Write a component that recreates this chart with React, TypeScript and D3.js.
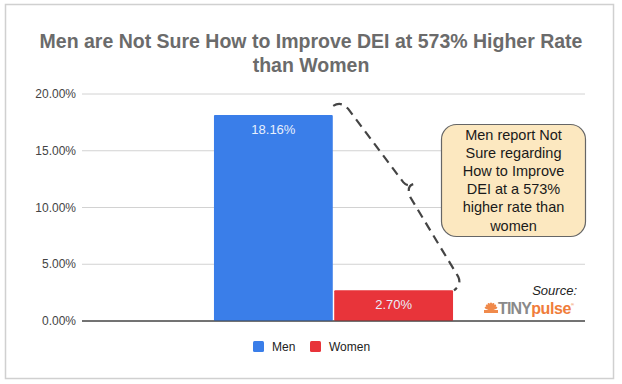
import * as d3 from "d3";
import { useEffect } from "react";

const categories = ["All respondents"];
const seriesNames = ["Men", "Women"];
const seriesValues = [0.1816, 0.027];
const seriesColors = ["#3a7ee9", "#e8343a"];
const yTicks = [0, 0.05, 0.1, 0.15, 0.2];
const titleLines = [
  "Men are Not Sure How to Improve DEI at 573% Higher Rate",
  "than Women",
];
const calloutLines = [
  "Men report Not",
  "Sure regarding",
  "How to Improve",
  "DEI at a 573%",
  "higher rate than",
  "women",
];

const W = 622;
const H = 384;
const margin = { top: 94, right: 37, bottom: 63, left: 82 };
const font = "'Liberation Sans', Arial, Helvetica, sans-serif";

function App() {
  useEffect(() => {
    document.body.style.margin = "0";
  }, []);

  const x0 = d3
    .scaleBand()
    .domain(categories)
    .range([margin.left, W - margin.right])
    .paddingInner(0)
    .paddingOuter(0.552);

  const x1 = d3
    .scaleBand()
    .domain(seriesNames)
    .range([0, x0.bandwidth()])
    .paddingInner(0.012);

  const y = d3
    .scaleLinear()
    .domain([0, 0.2])
    .range([H - margin.bottom, margin.top]);

  const fmt = d3.format(".2%");
  const gx = x0(categories[0]) as number;

  // brace between the two bar tops, anchored on the scales
  const bx = gx + (x1("Women") as number);
  const bTop = y(seriesValues[0]) - 9;
  const bBot = y(seriesValues[1]);
  const bRight = bx + x1.bandwidth() + 7;
  const midX = bx + 75;
  const midY = (bTop + bBot) / 2 - 14;
  const brace = d3.path();
  brace.moveTo(bx - 1, bTop);
  brace.quadraticCurveTo(bx + 7, bTop - 5, bx + 14, bTop + 3);
  brace.lineTo(midX - 6, midY - 2);
  brace.quadraticCurveTo(midX - 2, midY + 3, midX + 4, midY);
  brace.moveTo(midX + 4, midY);
  brace.quadraticCurveTo(midX - 3, midY + 2, midX + 1, midY + 13);
  brace.lineTo(bRight - 2, bBot - 14);
  brace.quadraticCurveTo(bRight + 2, bBot - 6, bRight - 6, bBot);

  return (
    <svg width={W} height={H} style={{ display: "block" }} fontFamily={font}>
      <rect x={0} y={0} width={W} height={H} fill="#ffffff" />
      <rect
        x={5.5}
        y={4.5}
        width={608}
        height={374}
        fill="none"
        stroke="#d0d0d0"
        strokeWidth={1.5}
      />

      {titleLines.map((t, i) => (
        <text
          key={t}
          x={311}
          y={48 + i * 24}
          textAnchor="middle"
          fontSize={19.5}
          fontWeight="bold"
          fill="#6b6b6b"
        >
          {t}
        </text>
      ))}

      {yTicks.map((t) => (
        <g key={t}>
          <line
            x1={margin.left}
            x2={W - margin.right}
            y1={y(t)}
            y2={y(t)}
            stroke={t === 0 ? "#444" : "#d2d2d2"}
            strokeWidth={1}
          />
          <text
            x={margin.left - 6}
            y={y(t) + 4}
            textAnchor="end"
            fontSize={12}
            fill="#444"
          >
            {fmt(t)}
          </text>
        </g>
      ))}

      {seriesNames.map((s, i) => {
        const bx0 = gx + (x1(s) as number);
        const v = seriesValues[i];
        const bh = y(0) - y(v);
        return (
          <g key={s}>
            <rect
              x={bx0}
              y={y(v)}
              width={x1.bandwidth()}
              height={bh}
              fill={seriesColors[i]}
              rx={1}
            />
            <text
              x={bx0 + x1.bandwidth() / 2}
              y={y(v) + 19}
              textAnchor="middle"
              fontSize={13}
              fill="#e8effc"
            >
              {fmt(v)}
            </text>
          </g>
        );
      })}

      <line
        x1={margin.left}
        x2={W - margin.right}
        y1={y(0)}
        y2={y(0)}
        stroke="#444"
        strokeWidth={1}
      />

      <path
        d={brace.toString()}
        fill="none"
        stroke="#444"
        strokeWidth={2.2}
        strokeDasharray="9,6"
        strokeLinecap="butt"
      />

      <rect
        x={441.5}
        y={124.5}
        width={144}
        height={112}
        rx={15}
        fill="#fce8c0"
        stroke="#666"
        strokeWidth={1.2}
      />
      {calloutLines.map((t, i) => (
        <text
          key={t}
          x={513.5}
          y={140 + i * 18.1}
          textAnchor="middle"
          fontSize={14.5}
          fill="#1a1a1a"
        >
          {t}
        </text>
      ))}

      <text
        x={577}
        y={295}
        textAnchor="end"
        fontSize={13}
        fontStyle="italic"
        fill="#222"
      >
        Source:
      </text>
      <g transform="translate(491,309)">
        {d3.range(-75, 80, 25).map((a) => (
          <ellipse
            key={a}
            cx={0}
            cy={0}
            rx={1.6}
            ry={4.5}
            fill="#f08a4b"
            transform={`rotate(${a}) translate(0,-2)`}
          />
        ))}
        <rect x={-7} y={1} width={14} height={3} fill="#f08a4b" />
      </g>
      <text
        x={498}
        y={314}
        fontSize={16}
        fontWeight="bold"
        letterSpacing={-0.8}
        fill="#8a8a8a"
        fontFamily="'Liberation Sans Narrow', 'Liberation Sans', sans-serif"
      >
        TINY
        <tspan fill="#f07d3a" letterSpacing={-0.4}>
          pulse
        </tspan>
        <tspan fontSize={4} dy={-8} fill="#f07d3a">
          ®
        </tspan>
      </text>

      {seriesNames.map((s, i) => {
        const lx = i === 0 ? 253 : 310;
        return (
          <g key={s}>
            <rect
              x={lx}
              y={341}
              width={11}
              height={11}
              rx={1.5}
              fill={seriesColors[i]}
            />
            <text x={lx + 19} y={351} fontSize={12} fill="#222">
              {s}
            </text>
          </g>
        );
      })}
    </svg>
  );
}

export default App;
